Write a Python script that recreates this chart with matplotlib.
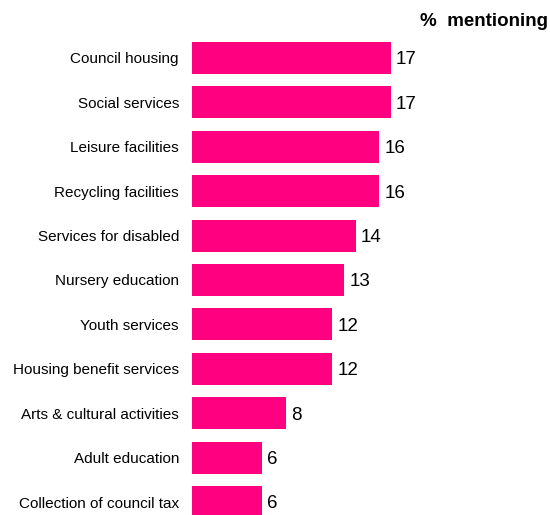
import matplotlib
matplotlib.use("Agg")
import matplotlib.pyplot as plt

plt.rcParams['font.family'] = ['Liberation Sans', 'DejaVu Sans']

categories = ["Council housing", "Social services", "Leisure facilities",
              "Recycling facilities", "Services for disabled", "Nursery education",
              "Youth services", "Housing benefit services", "Arts & cultural activities",
              "Adult education", "Collection of council tax"]
values = [17, 17, 16, 16, 14, 13, 12, 12, 8, 6, 6]

W, H = 550, 515
fig = plt.figure(figsize=(W / 100, H / 100), dpi=100)
ax = fig.add_axes([192 / W, 0, (W - 192) / W, 1])

px_per_unit = 199 / 17
row = 44.4
ypos = list(range(len(categories)))
ax.barh(ypos, values, height=32 / row, color="#FF0080")
ax.set_xlim(0, (W - 192) / px_per_unit)
ax.set_ylim(10 + 13 / row, -58 / row)

for y, v in zip(ypos, values):
    ax.text(v + 5 / px_per_unit, y + 2 / row, str(v), va="center", ha="left",
            fontsize=13.5, color="black")

ax.set_yticks(ypos)
ax.set_yticklabels(categories, fontsize=11)
# pad is in points: ~13 px gap between label and bar
ax.tick_params(axis="y", length=0, pad=9.4)
ax.set_xticks([])
for s in ax.spines.values():
    s.set_visible(False)

fig.text(548 / W, 1 - 21 / H, "%  mentioning", ha="right", va="center",
         fontsize=13.5, fontweight="bold")

fig.savefig("out.png", dpi=100)
